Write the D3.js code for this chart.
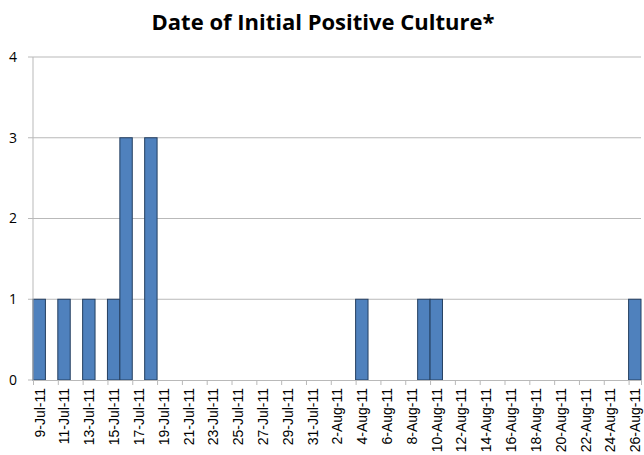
<!DOCTYPE html>
<meta charset="utf-8">
<style>
    body { margin: 0; background: #fff; font-family: 'Open Sans', 'Liberation Sans', sans-serif; }
    #graph { width: 644px; height: 455px; }
</style>
<script src="https://d3js.org/d3.v7.min.js"></script>
<div id="graph"></div>
<script>
    // cases by date of initial positive culture (days with no case are 0)
    const caseDates = ["2011-07-09", "2011-07-11", "2011-07-13", "2011-07-15", "2011-07-16",
                       "2011-07-18", "2011-08-04", "2011-08-09", "2011-08-10", "2011-08-26"];
    const caseCounts = [1, 1, 1, 1, 3, 3, 1, 1, 1, 1];
    const yTicks = [0, 1, 2, 3, 4];
    const firstDay = "2011-07-09", lastDay = "2011-08-26";

    const parse = d3.timeParse("%Y-%m-%d");
    const fmt = d3.timeFormat("%-d-%b-%y");

    const margin = {top: 57, right: 3, bottom: 75, left: 33},
        W = 644, H = 455,
        width = W - margin.left - margin.right,
        height = H - margin.top - margin.bottom;

    const svg = d3.select("#graph").append("svg")
        .attr("width", W).attr("height", H);

    svg.append("text")
        .attr("x", W / 2 + 1).attr("y", 30)
        .attr("text-anchor", "middle")
        .attr("font-size", 22).attr("font-weight", "bold")
        .attr("fill", "#000")
        .text("Date of Initial Positive Culture*");

    const g = svg.append("g").attr("transform", `translate(${margin.left},${margin.top})`);

    const start = parse(firstDay), end = d3.timeDay.offset(parse(lastDay), 1);
    const x = d3.scaleTime().domain([start, end]).range([0, width]);
    const y = d3.scaleLinear().domain([0, 4]).range([height, 0]);

    // gridlines
    g.selectAll("line.grid").data(yTicks.slice(1)).enter().append("line")
        .attr("class", "grid")
        .attr("x1", 0).attr("x2", width)
        .attr("y1", d => y(d)).attr("y2", d => y(d))
        .attr("stroke", "#b9b9b9").attr("stroke-width", 1);

    // y labels
    g.selectAll("text.ylab").data(yTicks).enter().append("text")
        .attr("class", "ylab")
        .attr("x", -20).attr("y", d => y(d))
        .attr("dy", "0.35em")
        .attr("text-anchor", "middle")
        .attr("font-size", 14)
        .text(d => d);

    // y tick marks
    g.selectAll("line.ytick").data(yTicks).enter().append("line")
        .attr("x1", -5).attr("x2", 0)
        .attr("y1", d => y(d)).attr("y2", d => y(d))
        .attr("stroke", "#b9b9b9");

    // bars
    const data = caseDates.map((d, i) => ({date: parse(d), n: caseCounts[i]}));
    g.selectAll("rect.bar").data(data).enter().append("rect")
        .attr("class", "bar")
        .attr("x", d => x(d.date))
        .attr("width", d => x(d3.timeDay.offset(d.date, 1)) - x(d.date))
        .attr("y", d => y(d.n))
        .attr("height", d => y(0) - y(d.n))
        .attr("fill", "#4f81bd")
        .attr("stroke", "#243f60").attr("stroke-width", 1);

    // x axis, a tick every other day counted from the first day
    const tickDays = d3.timeDay.range(start, end, 2);
    const halfDay = (x(d3.timeDay.offset(start, 1)) - x(start)) / 2;
    const axisX = g.append("g")
        .attr("transform", `translate(0,${height})`)
        .call(d3.axisBottom(x).tickValues(tickDays).tickSize(5).tickFormat(fmt));
    axisX.select(".domain").attr("stroke", "#b9b9b9");
    axisX.selectAll(".tick line").attr("stroke", "#b9b9b9");
    axisX.selectAll(".tick text")
        .attr("font-family", "'Liberation Sans', Arial, sans-serif")
        .attr("font-size", 14)
        .attr("fill", "#000")
        .attr("text-anchor", "end")
        .attr("transform", `translate(${halfDay},0) rotate(-90)`)
        .attr("x", -8).attr("y", 0).attr("dy", "0.35em");

    // left axis line
    g.append("line")
        .attr("x1", 0).attr("x2", 0).attr("y1", 0).attr("y2", height)
        .attr("stroke", "#b9b9b9");
</script>
